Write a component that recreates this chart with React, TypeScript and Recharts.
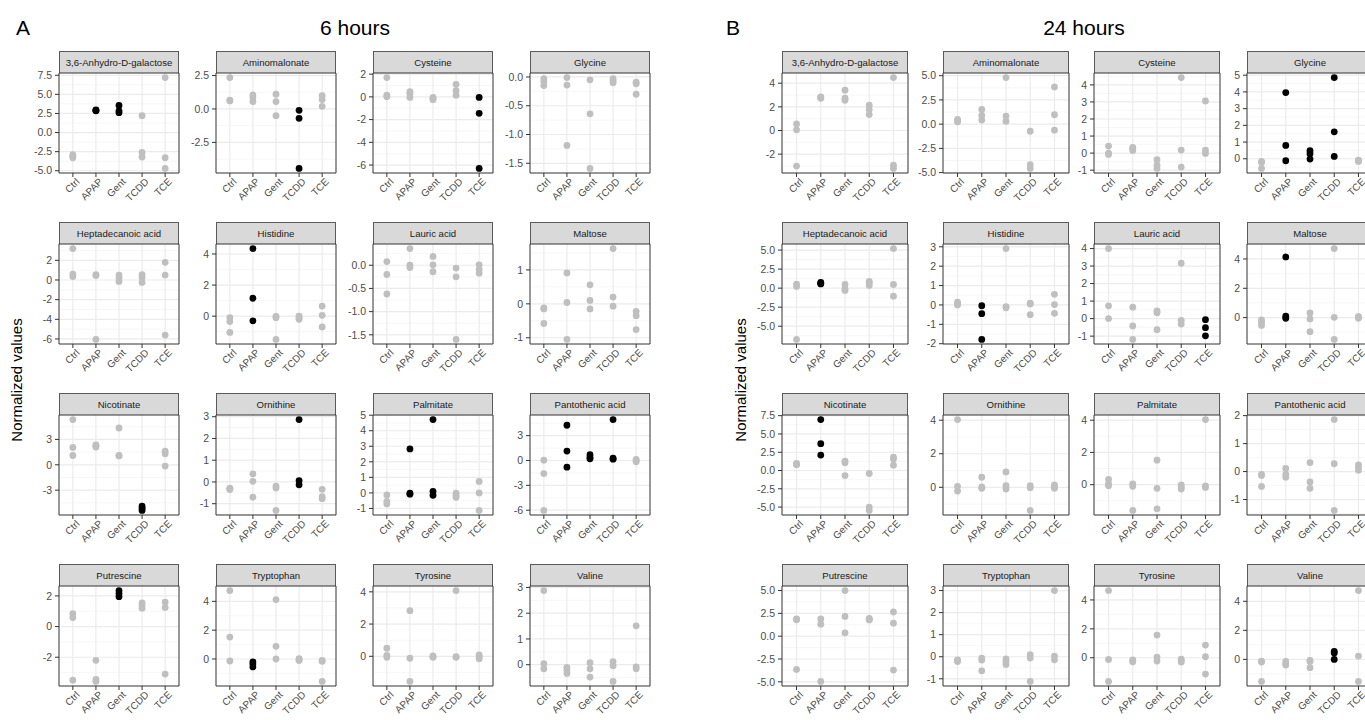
import React from "react";
import { ScatterChart, Scatter, XAxis, YAxis, CartesianGrid, ReferenceArea } from "recharts";

const groups = ["Ctrl", "APAP", "Gent", "TCDD", "TCE"];

// ---- 6 hours (panel A): values per group [Ctrl, APAP, Gent, TCDD, TCE]
const a6Anhydro = [[-2.9, -3.1, -3.3], [2.85, 2.9, 2.95], [3.55, 2.85, 2.6], [2.2, -2.6, -3.2], [7.2, -3.3, -4.7]];
const a6Amino = [[2.35, 0.65, 0.6], [1.05, 0.85, 0.55], [1.1, 0.55, -0.5], [-0.1, -0.7, -4.45], [1.0, 0.7, 0.2]];
const a6Cysteine = [[1.7, 0.15, 0.0], [0.45, 0.3, -0.05], [-0.05, -0.15, -0.25], [1.1, 0.55, 0.15], [-0.05, -1.45, -6.3]];
const a6Glycine = [[-0.03, -0.08, -0.15], [-0.01, -0.14, -1.19], [-0.05, -0.64, -1.59], [-0.03, -0.06, -0.1], [-0.09, -0.12, -0.3]];
const a6Hepta = [[3.2, 0.6, 0.35], [0.55, 0.45, -6.05], [0.5, 0.2, -0.15], [0.55, 0.25, -0.25], [1.8, 0.5, -5.6]];
const a6Histidine = [[-0.1, -0.35, -1.05], [4.35, 1.15, -0.3], [-0.02, -0.1, -1.5], [0.0, -0.1, -0.2], [0.65, 0.05, -0.7]];
const a6Lauric = [[0.08, -0.2, -0.62], [0.36, 0.0, -0.05], [0.19, 0.01, -0.14], [-0.06, -0.25, -1.6], [0.01, -0.09, -0.17]];
const a6Maltose = [[-0.12, -0.15, -0.58], [0.91, 0.04, -1.05], [0.56, 0.1, -0.15], [1.63, 0.2, -0.07], [-0.22, -0.35, -0.76]];
const a6Nicotinate = [[5.35, 2.05, 1.1], [2.35, 2.25, 2.1], [4.35, 1.1, 1.05], [-4.9, -5.15, -5.4], [1.6, 1.3, -0.15]];
const a6Ornithine = [[-0.28, -0.32, -0.35], [0.37, 0.03, -0.7], [-0.19, -0.28, -1.31], [2.87, 0.06, -0.13], [-0.34, -0.68, -0.77]];
const a6Palmitate = [[-0.13, -0.54, -0.71], [2.83, -0.02, -0.08], [4.72, 0.1, -0.15], [-0.02, -0.17, -0.28], [0.74, 0.0, -1.13]];
const a6Panto = [[0.04, -1.58, -6.03], [4.25, 1.13, -0.81], [0.69, 0.36, 0.2], [4.94, 0.28, 0.16], [0.12, -0.04, -0.16]];
const a6Putrescine = [[0.85, 0.59, -3.5], [-2.2, -3.45, -3.58], [2.35, 2.15, 1.95], [1.55, 1.4, 1.2], [1.6, 1.25, -3.1]];
const a6Tryptophan = [[4.75, 1.52, -0.14], [-0.2, -0.35, -0.55], [4.12, 0.88, 0.0], [0.02, -0.07, -0.1], [-0.1, -0.16, -1.56]];
const a6Tyrosine = [[0.5, 0.06, -0.06], [2.83, -0.12, -1.56], [0.02, -0.03, -0.06], [4.08, -0.02, -0.06], [0.08, -0.02, -0.15]];
const a6Valine = [[2.88, 0.04, -0.16], [-0.1, -0.21, -0.34], [0.08, -0.16, -0.48], [0.12, -0.04, -0.65], [1.51, -0.08, -0.16]];

// ---- 24 hours (panel B)
const b24Anhydro = [[0.56, 0.06, -3.01], [2.85, 2.8, 2.73], [3.41, 2.73, 2.56], [2.14, 1.77, 1.35], [4.48, -2.93, -3.21]];
const b24Amino = [[0.5, 0.35, 0.25], [1.52, 0.9, 0.42], [4.81, 0.83, 0.31], [-0.73, -4.19, -4.57], [3.84, 0.97, -0.62]];
const b24Cysteine = [[0.41, 0.0, -0.08], [0.33, 0.25, 0.16], [-0.39, -0.71, -0.9], [4.43, 0.18, -0.82], [3.06, 0.18, -0.02]];
const b24Glycine = [[-0.16, -0.22, -0.58], [3.96, 0.8, -0.12], [0.48, 0.3, -0.02], [4.86, 1.61, 0.14], [-0.08, -0.12, -0.16]];
const b24Hepta = [[0.53, 0.22, -6.74], [0.75, 0.65, 0.55], [0.48, -0.09, -0.3], [0.88, 0.66, 0.35], [5.2, 0.48, -1.06]];
const b24Histidine = [[0.14, 0.05, 0.0], [-0.04, -0.45, -1.78], [2.91, -0.09, -0.15], [0.09, 0.05, -0.5], [0.55, 0.02, -0.43]];
const b24Lauric = [[4.0, 0.73, 0.0], [0.65, -0.42, -1.19], [0.44, 0.34, -0.63], [3.16, -0.1, -0.31], [-0.06, -0.52, -0.98]];
const b24Maltose = [[-0.16, -0.34, -0.53], [4.14, 0.1, -0.05], [0.32, -0.09, -0.96], [4.71, 0.02, -1.49], [0.07, 0.05, -0.05]];
const b24Nicotinate = [[0.96, 0.87, 0.78], [6.97, 3.67, 2.11], [1.28, 1.05, -0.69], [-0.41, -5.0, -5.46], [1.83, 1.56, 0.73]];
const b24Ornithine = [[4.04, 0.06, -0.22], [0.6, 0.02, -0.06], [0.92, 0.1, -0.1], [0.1, -0.02, -1.38], [0.14, 0.04, -0.06]];
const b24Palmitate = [[0.33, 0.06, -0.06], [0.04, -0.1, -1.6], [1.52, -0.23, -1.5], [-0.02, -0.15, -0.27], [4.04, -0.08, -0.17]];
const b24Panto = [[-0.1, -0.14, -0.53], [0.11, -0.1, -0.2], [0.32, -0.37, -0.6], [1.86, 0.28, -1.39], [0.24, 0.17, 0.05]];
const b24Putrescine = [[1.88, 1.8, -3.64], [1.88, 1.32, -4.96], [5.0, 2.17, 0.37], [1.95, 1.85, 1.78], [2.65, 1.43, -3.71]];
const b24Tryptophan = [[-0.14, -0.17, -0.22], [-0.06, -0.15, -0.64], [-0.1, -0.21, -0.35], [0.1, -0.06, -1.12], [3.0, 0.03, -0.14]];
const b24Tyrosine = [[4.65, -0.12, -1.64], [-0.14, -0.2, -0.28], [1.57, 0.05, -0.23], [-0.09, -0.19, -0.3], [0.88, 0.07, -1.13]];
const b24Valine = [[-0.12, -0.18, -1.52], [-0.14, -0.28, -0.39], [-0.07, -0.14, -0.57], [0.55, 0.44, 0.0], [4.74, 0.23, -1.52]];

// facet specs: title, values, highlighted groups, y tick labels, decimals
const panelA = [
  { title: "3,6-Anhydro-D-galactose", values: a6Anhydro, sig: ["APAP", "Gent"], ticks: [-5, -2.5, 0, 2.5, 5, 7.5], dec: 1 },
  { title: "Aminomalonate", values: a6Amino, sig: ["TCDD"], ticks: [-2.5, 0, 2.5], dec: 1 },
  { title: "Cysteine", values: a6Cysteine, sig: ["TCE"], ticks: [-6, -4, -2, 0, 2], dec: 0 },
  { title: "Glycine", values: a6Glycine, sig: [], ticks: [-1.5, -1, -0.5, 0], dec: 1 },
  { title: "Heptadecanoic acid", values: a6Hepta, sig: [], ticks: [-6, -4, -2, 0, 2], dec: 0 },
  { title: "Histidine", values: a6Histidine, sig: ["APAP"], ticks: [0, 2, 4], dec: 0 },
  { title: "Lauric acid", values: a6Lauric, sig: [], ticks: [-1.5, -1, -0.5, 0], dec: 1 },
  { title: "Maltose", values: a6Maltose, sig: [], ticks: [-1, 0, 1], dec: 0 },
  { title: "Nicotinate", values: a6Nicotinate, sig: ["TCDD"], ticks: [-3, 0, 3], dec: 0 },
  { title: "Ornithine", values: a6Ornithine, sig: ["TCDD"], ticks: [-1, 0, 1, 2, 3], dec: 0 },
  { title: "Palmitate", values: a6Palmitate, sig: ["APAP", "Gent"], ticks: [-1, 0, 1, 2, 3, 4, 5], dec: 0 },
  { title: "Pantothenic acid", values: a6Panto, sig: ["APAP", "Gent", "TCDD"], ticks: [-6, -3, 0, 3], dec: 0 },
  { title: "Putrescine", values: a6Putrescine, sig: ["Gent"], ticks: [-2, 0, 2], dec: 0 },
  { title: "Tryptophan", values: a6Tryptophan, sig: ["APAP"], ticks: [0, 2, 4], dec: 0 },
  { title: "Tyrosine", values: a6Tyrosine, sig: [], ticks: [0, 2, 4], dec: 0 },
  { title: "Valine", values: a6Valine, sig: [], ticks: [0, 1, 2, 3], dec: 0 },
];

const panelB = [
  { title: "3,6-Anhydro-D-galactose", values: b24Anhydro, sig: [], ticks: [-2, 0, 2, 4], dec: 0 },
  { title: "Aminomalonate", values: b24Amino, sig: [], ticks: [-5, -2.5, 0, 2.5, 5], dec: 1 },
  { title: "Cysteine", values: b24Cysteine, sig: [], ticks: [-1, 0, 1, 2, 3, 4], dec: 0 },
  { title: "Glycine", values: b24Glycine, sig: ["APAP", "Gent", "TCDD"], ticks: [0, 1, 2, 3, 4, 5], dec: 0 },
  { title: "Heptadecanoic acid", values: b24Hepta, sig: ["APAP"], ticks: [-5, -2.5, 0, 2.5, 5], dec: 1 },
  { title: "Histidine", values: b24Histidine, sig: ["APAP"], ticks: [-2, -1, 0, 1, 2, 3], dec: 0 },
  { title: "Lauric acid", values: b24Lauric, sig: ["TCE"], ticks: [-1, 0, 1, 2, 3, 4], dec: 0 },
  { title: "Maltose", values: b24Maltose, sig: ["APAP"], ticks: [0, 2, 4], dec: 0 },
  { title: "Nicotinate", values: b24Nicotinate, sig: ["APAP"], ticks: [-5, -2.5, 0, 2.5, 5, 7.5], dec: 1 },
  { title: "Ornithine", values: b24Ornithine, sig: [], ticks: [0, 2, 4], dec: 0 },
  { title: "Palmitate", values: b24Palmitate, sig: [], ticks: [0, 2, 4], dec: 0 },
  { title: "Pantothenic acid", values: b24Panto, sig: [], ticks: [-1, 0, 1, 2], dec: 0 },
  { title: "Putrescine", values: b24Putrescine, sig: [], ticks: [-5, -2.5, 0, 2.5, 5], dec: 1 },
  { title: "Tryptophan", values: b24Tryptophan, sig: [], ticks: [-1, 0, 1, 2, 3], dec: 0 },
  { title: "Tyrosine", values: b24Tyrosine, sig: [], ticks: [0, 2, 4], dec: 0 },
  { title: "Valine", values: b24Valine, sig: ["TCDD"], ticks: [0, 2, 4], dec: 0 },
];

// ---- layout
const FONT = "'Liberation Sans', Arial, Helvetica, sans-serif";
const STRIP_H = 22;
const PLOT_H = 100;
const XAX_H = 40;
const YAX_W = 44;
const ROW_TOPS = [51, 222, 393, 564];
const A_COLS = [59, 216, 373, 530];
const B_COLS = [782, 943, 1094, 1247];
const A_W = 120;
const B_W = 126;
const GRAY = "#BFBFBF";
const BLACK = "#000000";

function XTick(props: any) {
  const { x, y, payload } = props;
  return (
    <g transform={`translate(${x + 3},${y})`}>
      <text x={0} y={0} dy="0.62em" textAnchor="end" transform="rotate(-45)" fontSize={10} fill="#4D4D4D" fontFamily={FONT}>
        {groups[payload.value - 1]}
      </text>
    </g>
  );
}

function dot(color: string) {
  return (p: any) => <circle cx={p.cx} cy={p.cy} r={3.4} fill={color} />;
}

function Facet({ spec, left, top, w }: any) {
  const grayPts: any[] = [];
  const blackPts: any[] = [];
  spec.values.forEach((vals: number[], gi: number) => {
    vals.forEach((v) => {
      (spec.sig.includes(groups[gi]) ? blackPts : grayPts).push({ x: gi + 1, y: v });
    });
  });
  const all = spec.values.flat();
  const mn = Math.min(...all);
  const mx = Math.max(...all);
  const pad = (mx - mn) * 0.05;
  const dom: [number, number] = [mn - pad, mx + pad];
  const step = spec.ticks[1] - spec.ticks[0];
  const minor: number[] = [];
  for (let t = spec.ticks[0] - step * 1.5; t <= dom[1]; t += step) {
    if (t >= dom[0]) minor.push(t);
  }
  return (
    <div style={{ position: "absolute", left: left - YAX_W, top }}>
      <div
        style={{
          position: "absolute",
          left: YAX_W,
          top: 0,
          width: w,
          height: STRIP_H,
          boxSizing: "border-box",
          background: "#D9D9D9",
          border: "1px solid #5a5a5a",
          borderBottom: "none",
          display: "flex",
          alignItems: "center",
          justifyContent: "center",
          fontSize: 9.6,
          color: "#1A1A1A",
          fontFamily: FONT,
          whiteSpace: "nowrap",
        }}
      >
        {spec.title}
      </div>
      <ScatterChart
        width={YAX_W + w + 2}
        height={STRIP_H + PLOT_H + XAX_H}
        margin={{ top: STRIP_H, right: 2, bottom: 0, left: 0 }}
      >
        <CartesianGrid vertical={false} horizontalValues={minor} stroke="#F3F3F3" strokeWidth={0.7} />
        <CartesianGrid horizontalValues={spec.ticks} verticalValues={[1, 2, 3, 4, 5]} stroke="#EBEBEB" strokeWidth={1.2} />
        <XAxis
          type="number"
          dataKey="x"
          domain={[0.4, 5.6]}
          ticks={[1, 2, 3, 4, 5]}
          allowDataOverflow
          interval={0}
          height={XAX_H}
          axisLine={false}
          tickSize={4}
          tickMargin={1}
          tickLine={{ stroke: "#333333" }}
          tick={<XTick />}
        />
        <YAxis
          type="number"
          dataKey="y"
          domain={dom}
          ticks={spec.ticks}
          allowDataOverflow
          interval={0}
          width={YAX_W}
          axisLine={false}
          tickSize={4}
          tickMargin={3}
          tickLine={{ stroke: "#333333" }}
          tick={{ fontSize: 10.5, fill: "#4D4D4D", fontFamily: FONT }}
          tickFormatter={(v: number) => v.toFixed(spec.dec)}
        />
        <Scatter data={grayPts} fill={GRAY} isAnimationActive={false} shape={dot(GRAY)} />
        {blackPts.length > 0 && (
          <Scatter data={blackPts} fill={BLACK} isAnimationActive={false} shape={dot(BLACK)} />
        )}
        <ReferenceArea x1={0.4} x2={5.6} y1={dom[0]} y2={dom[1]} fill="none" stroke="#333333" strokeWidth={1} ifOverflow="visible" />
      </ScatterChart>
    </div>
  );
}

export default function App() {
  const facets: any[] = [];
  panelA.forEach((spec, i) => {
    facets.push(<Facet key={"a" + i} spec={spec} left={A_COLS[i % 4]} top={ROW_TOPS[Math.floor(i / 4)]} w={A_W} />);
  });
  panelB.forEach((spec, i) => {
    facets.push(<Facet key={"b" + i} spec={spec} left={B_COLS[i % 4]} top={ROW_TOPS[Math.floor(i / 4)]} w={B_W} />);
  });
  return (
    <div
      style={{
        position: "fixed",
        left: 0,
        top: 0,
        width: 1365,
        height: 720,
        overflow: "hidden",
        background: "#FFFFFF",
        fontFamily: FONT,
      }}
    >
      <svg width={1365} height={720} style={{ position: "absolute", left: 0, top: 0 }}>
        <text x={16} y={35} fontSize={21} fill="#000" fontFamily={FONT}>A</text>
        <text x={355} y={35} fontSize={21} fill="#000" textAnchor="middle" fontFamily={FONT}>6 hours</text>
        <text x={726} y={35} fontSize={21} fill="#000" fontFamily={FONT}>B</text>
        <text x={1084} y={35} fontSize={21} fill="#000" textAnchor="middle" fontFamily={FONT}>24 hours</text>
        <text x={22} y={380} fontSize={15} fill="#000" textAnchor="middle" transform="rotate(-90 22 380)" fontFamily={FONT}>
          Normalized values
        </text>
        <text x={746} y={380} fontSize={15} fill="#000" textAnchor="middle" transform="rotate(-90 746 380)" fontFamily={FONT}>
          Normalized values
        </text>
      </svg>
      {facets}
    </div>
  );
}
